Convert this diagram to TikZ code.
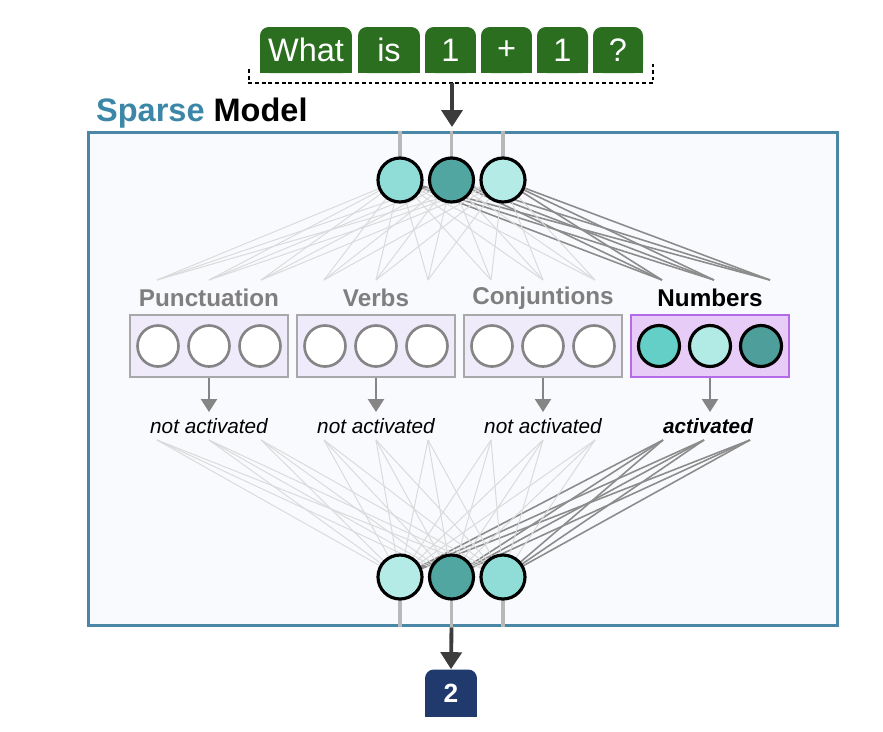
\documentclass[tikz,border=0pt]{standalone}
\usepackage{fontspec}
\setmainfont{Liberation Sans}
\usepackage{tikz}
\usetikzlibrary{arrows.meta,backgrounds,calc,positioning}

\definecolor{tokgreen}{HTML}{2B6E1F}
\definecolor{modelblue}{HTML}{4A87A6}
\definecolor{sparseblue}{HTML}{3C87A8}
\definecolor{modelfill}{HTML}{F9FAFD}
\definecolor{tealA}{HTML}{8FDDD6}
\definecolor{tealB}{HTML}{52A6A2}
\definecolor{tealC}{HTML}{B5EBE6}
\definecolor{numA}{HTML}{63CFC7}
\definecolor{numB}{HTML}{B2EAE5}
\definecolor{numC}{HTML}{4E9F9B}
\definecolor{grpfill}{HTML}{EFEBFA}
\definecolor{numfill}{HTML}{E8CCF8}
\definecolor{numborder}{HTML}{B36BE8}
\definecolor{boxgray}{HTML}{A8A8A8}
\definecolor{unitgray}{HTML}{858585}
\definecolor{labelgray}{HTML}{7F7F7F}
\definecolor{faintgray}{HTML}{DADADA}
\definecolor{stronggray}{HTML}{8C8C8C}
\definecolor{stubgray}{HTML}{B8B8B8}
\definecolor{arrowdark}{HTML}{3C3C3C}
\definecolor{navy}{HTML}{203A6E}

\tikzset{
  token/.style={fill=tokgreen, text=white, rounded corners=5pt, minimum height=0.92cm, inner sep=0pt, font=\fontsize{18.5}{20}\selectfont},
  neuron/.style={circle, draw=black, line width=1.8pt, minimum size=0.88cm, inner sep=0pt},
  unit/.style={circle, draw=unitgray, line width=1.5pt, fill=white, minimum size=0.82cm, inner sep=0pt},
  numunit/.style={circle, draw=black, line width=1.8pt, minimum size=0.82cm, inner sep=0pt},
  groupbox/.style={draw=boxgray, line width=0.9pt, fill=grpfill, minimum width=3.16cm, minimum height=1.24cm, inner sep=0pt},
  grplabel/.style={font=\fontsize{13.8}{16}\selectfont\bfseries, text=labelgray},
  statelabel/.style={font=\fontsize{11.8}{14}\selectfont\itshape},
  faint/.style={draw=faintgray, line width=0.55pt},
  strong/.style={draw=stronggray, line width=0.9pt},
  stub/.style={draw=stubgray, line width=2.2pt},
  bracket/.style={draw=black, line width=0.8pt, dash pattern=on 2.2pt off 1.6pt},
  bigarrow/.style={draw=arrowdark, line width=2.2pt, -{Triangle[width=0.42cm,length=0.34cm]}},
  smallarrow/.style={draw=unitgray, line width=1.4pt, -{Triangle[width=0.32cm,length=0.26cm]}},
}

\begin{document}
\begin{tikzpicture}[x=0.02cm, y=-0.02cm]
\useasboundingbox (0,0) rectangle (883,731);

% model frame
\begin{scope}[on background layer]
\node[draw=modelblue, line width=1.7pt, fill=modelfill, minimum width=15cm, minimum height=9.88cm] (model) at (463,379) {};
\end{scope}

% input tokens
\node[token, minimum width=1.84cm] (w1) at (306,50) {What};
\node[token, minimum width=1.24cm] (w2) at (389,50) {is};
\node[token, minimum width=1.02cm] (w3) at (450.5,50) {1};
\node[token, minimum width=1.02cm] (w4) at (506.5,50) {+};
\node[token, minimum width=1.02cm] (w5) at (562.5,50) {1};
\node[token, minimum width=1.00cm] (w6) at (618,50) {?};
\begin{scope}[on background layer]
\foreach \i in {1,...,6}
  \fill[tokgreen] (w\i.west) rectangle (w\i.south east);
\end{scope}

\coordinate (brl) at (249,83);
\coordinate (brr) at (653,83);
\draw[bracket] ($(brl)+(0,-14)$) -- (brl) -- (brr) -- ($(brr)+(0,-19)$);
\coordinate (in) at (452,83);
\coordinate (inend) at (452,127);
\draw[bigarrow] (in) -- (inend);

\node[anchor=base west, font=\fontsize{18.5}{20}\selectfont\bfseries] (title) at (90,121) {\textcolor{sparseblue}{Sparse} Model};

% neurons
\node[neuron, fill=tealA] (t1) at (400,180) {};
\node[neuron, fill=tealB] (t2) at (451.5,180) {};
\node[neuron, fill=tealC] (t3) at (503,180) {};
\node[neuron, fill=tealC] (b1) at (400,577) {};
\node[neuron, fill=tealB] (b2) at (451.5,577) {};
\node[neuron, fill=tealA] (b3) at (503,577) {};

% experts
\foreach \g/\cx/\txt in {punct/209/Punctuation, verb/376/Verbs, conj/543/Conjuntions}{
  \node[grplabel] (\g-lab) at (\cx,298) {\txt};
  \node[groupbox] (\g-box) at (\cx,346) {};
  \node[unit] (\g-1) at (\cx-51,346) {};
  \node[unit] (\g-2) at (\cx,346) {};
  \node[unit] (\g-3) at (\cx+51,346) {};
  \coordinate (\g-arr) at (\cx,412);
  \draw[smallarrow] (\g-box.south) -- (\g-arr);
  \node[statelabel] (\g-state) at (\cx,426) {not activated};
  \coordinate (\g-up1) at (\cx-52,280);
  \coordinate (\g-up2) at (\cx,280);
  \coordinate (\g-up3) at (\cx+52,280);
  \coordinate (\g-dn1) at (\cx-52,440);
  \coordinate (\g-dn2) at (\cx,440);
  \coordinate (\g-dn3) at (\cx+52,440);
}
\node[grplabel, text=black] (num-lab) at (710,298) {Numbers};
\node[groupbox, draw=numborder, fill=numfill] (num-box) at (710,346) {};
\node[numunit, fill=numA] (num-1) at (659,346) {};
\node[numunit, fill=numB] (num-2) at (710,346) {};
\node[numunit, fill=numC] (num-3) at (761,346) {};
\coordinate (num-arr) at (710,412);
\draw[smallarrow] (num-box.south) -- (num-arr);
\node[statelabel, font=\fontsize{11.8}{14}\selectfont\bfseries\itshape] (num-state) at (708,426) {activated};
\coordinate (num-up1) at (662,280);
\coordinate (num-up2) at (714,280);
\coordinate (num-up3) at (770,280);
\coordinate (num-dn1) at (663,440);
\coordinate (num-dn2) at (704,440);
\coordinate (num-dn3) at (750,440);

% connections
\begin{scope}[on background layer]
\foreach \n in {1,2,3}{
  \draw[stub] (t\n.center) -- (t\n |- model.north);
  \draw[stub] (b\n.center) -- (b\n |- model.south);
  \foreach \g in {punct,verb,conj}{
    \foreach \k in {1,2,3}{
      \draw[faint] (t\n.center) -- (\g-up\k);
      \draw[faint] (\g-dn\k) -- (b\n.center);
    }
  }
  \foreach \k in {1,2,3}{
    \draw[strong] (t\n.center) -- (num-up\k);
    \draw[strong] (num-dn\k) -- (b\n.center);
  }
}
\end{scope}

% output
\node[fill=navy, text=white, rounded corners=5pt, minimum width=1.04cm, minimum height=0.94cm, inner sep=0pt, font=\fontsize{15}{17}\selectfont\bfseries] (out) at (451,693) {2};
\begin{scope}[on background layer]
\fill[navy] (out.west) rectangle (out.south east);
\end{scope}
\draw[bigarrow] (b2 |- model.south) -- (out.north);
\end{tikzpicture}
\end{document}
